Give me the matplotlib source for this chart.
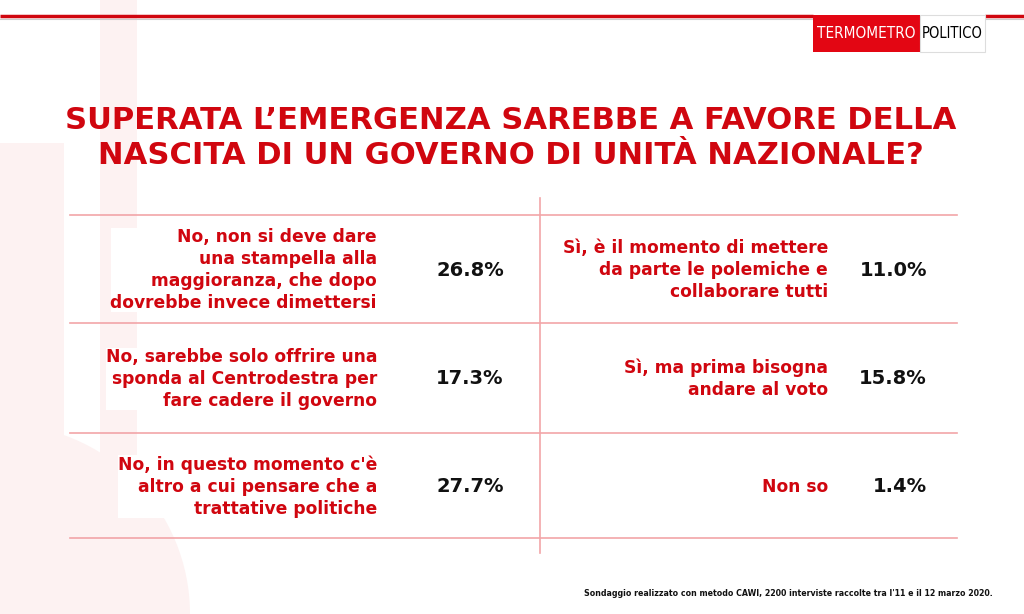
import matplotlib.pyplot as plt
from matplotlib.patches import Rectangle, Wedge

RED = '#d0060f'
LINE = '#f2a5a8'
PALE = '#fdf2f2'

title = "SUPERATA L\u2019EMERGENZA SAREBBE A FAVORE DELLA\nNASCITA DI UN GOVERNO DI UNIT\u00c0 NAZIONALE?"

left_labels = [
    "No, non si deve dare\nuna stampella alla\nmaggioranza, che dopo\ndovrebbe invece dimettersi",
    "No, sarebbe solo offrire una\nsponda al Centrodestra per\nfare cadere il governo",
    "No, in questo momento c'\u00e8\naltro a cui pensare che a\ntrattative politiche",
]
left_values = [26.8, 17.3, 27.7]

right_labels = [
    "S\u00ec, \u00e8 il momento di mettere\nda parte le polemiche e\ncollaborare tutti",
    "S\u00ec, ma prima bisogna\nandare al voto",
    "Non so",
]
right_values = [11.0, 15.8, 1.4]

note = "Sondaggio realizzato con metodo CAWI, 2200 interviste raccolte tra l'11 e il 12 marzo 2020."

fig = plt.figure(figsize=(10.24, 6.14), dpi=100)
ax = fig.add_axes([0, 0, 1, 1])
ax.set_xlim(0, 1024)
ax.set_ylim(614, 0)
ax.axis('off')

# faint watermark in the background
ax.add_patch(Rectangle((100, 0), 37, 614, color=PALE, lw=0, zorder=0))
ax.add_patch(Rectangle((0, 143), 64, 471, color=PALE, lw=0, zorder=0))
ax.add_patch(Wedge((0, 614), 190, 270, 360, color=PALE, lw=0, zorder=0))

# top rule and logo
ax.plot([0, 813], [16, 16], color=RED, lw=2.5, solid_capstyle='butt', zorder=2)
ax.plot([985, 1024], [16, 16], color=RED, lw=2.5, solid_capstyle='butt', zorder=2)
ax.plot([0, 813], [18.5, 18.5], color='#cccccc', lw=0.8, zorder=1)
ax.plot([985, 1024], [18.5, 18.5], color='#cccccc', lw=0.8, zorder=1)
ax.add_patch(Rectangle((813, 15), 107, 37, color='#e30613', lw=0, zorder=3))
ax.add_patch(Rectangle((920, 15), 65, 37, facecolor='white', edgecolor='#dddddd', lw=0.8, zorder=3))
ax.text(866.5, 34, "TERMOMETRO", color='white', fontsize=11.0, fontstretch='condensed',
        ha='center', va='center', zorder=4)
ax.text(952.5, 34, "POLITICO", color='black', fontsize=10.5, fontstretch='condensed',
        ha='center', va='center', zorder=4)

# title
ax.text(511, 138, title, color=RED, fontsize=22.1, fontweight='bold', ha='center',
        va='center', linespacing=1.3, zorder=4)

# grid
row_edges = [215, 323, 433, 538]
for y in row_edges:
    ax.plot([70, 957], [y, y], color=LINE, lw=1.2, zorder=1)
ax.plot([540, 540], [198, 553], color=LINE, lw=1.2, zorder=1)

# rows
box = dict(facecolor='white', edgecolor='none', pad=0)
for i in range(3):
    yc = (row_edges[i] + row_edges[i + 1]) / 2 + 1
    ax.text(377, yc, left_labels[i], color=RED, fontsize=12.3, fontweight='bold',
            ha='right', va='center', linespacing=1.3, bbox=box, zorder=4)
    ax.text(470, yc, f"{left_values[i]:.1f}%", color='#111111', fontsize=14,
            fontweight='bold', ha='center', va='center', zorder=4)
    ax.text(828, yc, right_labels[i], color=RED, fontsize=12.3, fontweight='bold',
            ha='right', va='center', linespacing=1.3, zorder=4)
    ax.text(927, yc, f"{right_values[i]:.1f}%", color='#111111', fontsize=14,
            fontweight='bold', ha='right', va='center', zorder=4)

ax.text(993, 593, note, color='#111111', fontsize=5.65, fontweight='bold',
        ha='right', va='center', zorder=4)

fig.savefig('out.png', dpi=100)
